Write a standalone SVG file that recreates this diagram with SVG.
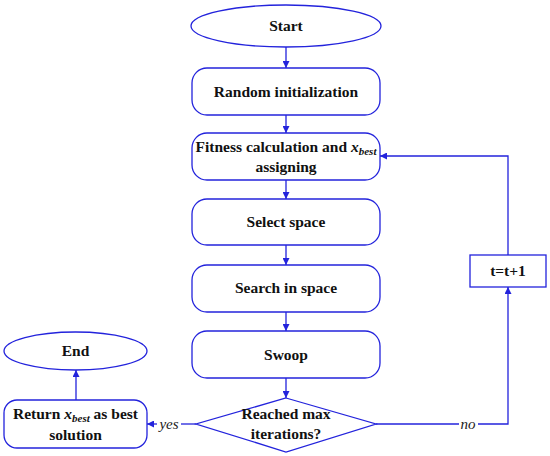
<svg xmlns="http://www.w3.org/2000/svg" width="550" height="456" viewBox="0 0 550 456">
<style>
.n{fill:#fff;stroke:#2323dc;stroke-width:1.3}
.c{fill:none;stroke:#2323dc;stroke-width:1.3}
.t{font-family:"Liberation Serif","Times New Roman",serif;font-weight:bold;font-size:15.5px;fill:#111;text-anchor:middle}
.l{font-family:"Liberation Serif","Times New Roman",serif;font-style:italic;font-size:15px;fill:#222;text-anchor:middle}
.i{font-style:italic}
</style>
<defs>
<marker id="a" viewBox="0 0 10 10" refX="10" refY="5" markerWidth="7" markerHeight="7" markerUnits="userSpaceOnUse" orient="auto">
<path d="M0,0 L10,5 L0,10 z" fill="#2323dc"/>
</marker>
</defs>
<g id="connectors">
<path class="c" d="M286,47 V68" marker-end="url(#a)"/>
<path class="c" d="M286,115 V133" marker-end="url(#a)"/>
<path class="c" d="M286,180 V199" marker-end="url(#a)"/>
<path class="c" d="M286,245 V265" marker-end="url(#a)"/>
<path class="c" d="M286,312 V331" marker-end="url(#a)"/>
<path class="c" d="M286,378 V398" marker-end="url(#a)"/>
<path class="c" d="M196,424 H181"/>
<path class="c" d="M157,424 H147" marker-end="url(#a)"/>
<path class="c" d="M376,424 H459"/>
<path class="c" d="M478,424 H508 V287" marker-end="url(#a)"/>
<path class="c" d="M508,255 V156 H380" marker-end="url(#a)"/>
<path class="c" d="M76,400 V370" marker-end="url(#a)"/>
<text class="l" x="169" y="429">yes</text>
<text class="l" x="468" y="429">no</text>
</g>
<g id="start">
<ellipse class="n" cx="286" cy="26" rx="95" ry="21"/>
<text class="t" x="286" y="31">Start</text>
</g>
<g id="random">
<rect class="n" x="192" y="68" width="188" height="47" rx="15"/>
<text class="t" x="286" y="97">Random initialization</text>
</g>
<g id="fitness">
<rect class="n" x="192" y="133" width="188" height="47" rx="15"/>
<text class="t" x="286" y="152">Fitness calculation and <tspan class="i">x</tspan><tspan class="i" font-size="11" dy="3">best</tspan></text>
<text class="t" x="286" y="172">assigning</text>
</g>
<g id="select">
<rect class="n" x="192" y="199" width="188" height="46" rx="15"/>
<text class="t" x="286" y="227">Select space</text>
</g>
<g id="search">
<rect class="n" x="192" y="265" width="188" height="47" rx="15"/>
<text class="t" x="286" y="293">Search in space</text>
</g>
<g id="swoop">
<rect class="n" x="192" y="331" width="188" height="47" rx="15"/>
<text class="t" x="286" y="360">Swoop</text>
</g>
<g id="decision">
<polygon class="n" points="286,398 376,424 286,452 196,424"/>
<text class="t" x="286" y="419">Reached max</text>
<text class="t" x="286" y="439">iterations?</text>
</g>
<g id="increment">
<rect class="n" x="470" y="255" width="76" height="32"/>
<text class="t" x="508" y="276">t=t+1</text>
</g>
<g id="return">
<rect class="n" x="4" y="400" width="143" height="48" rx="13"/>
<text class="t" x="75.5" y="419">Return <tspan class="i">x</tspan><tspan class="i" font-size="11" dy="3">best</tspan><tspan dy="-3"> as best</tspan></text>
<text class="t" x="75.5" y="440">solution</text>
</g>
<g id="end">
<ellipse class="n" cx="75.5" cy="351" rx="71.5" ry="19"/>
<text class="t" x="75.5" y="356">End</text>
</g>
</svg>
